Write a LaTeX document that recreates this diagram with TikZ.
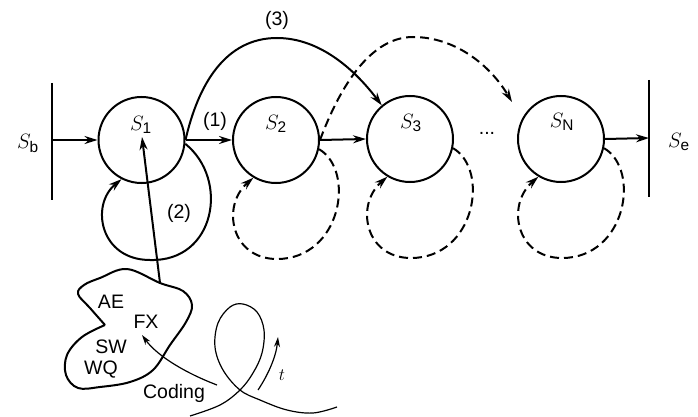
\documentclass[tikz,border=0pt]{standalone}
\usepackage{amsmath}
\usepackage{fontspec}
\setsansfont{Liberation Sans}
\usetikzlibrary{arrows.meta,calc}
\tikzset{
  state/.style={circle,draw,line width=2pt,minimum size=86pt,inner sep=0pt},
  main/.style={line width=2pt},
  arr/.style={-{Stealth[length=13pt,width=8pt]}},
  dsh/.style={dash pattern=on 9pt off 5pt},
  thin arr/.style={-{Stealth[length=10pt,width=6pt]}},
  lbl/.style={font=\fontsize{19.5}{22}\selectfont\sffamily,inner sep=0pt},
  slbl/.style={font=\fontsize{22}{24}\selectfont,inner sep=0pt},
}
\begin{document}
\begin{tikzpicture}[x=1pt,y=-1pt]
\useasboundingbox (0,0) rectangle (698,417);
% states
\node[state] (s1) at (141.5,140) {};
\node[state] (s2) at (276,140) {};
\node[state] (s3) at (410,139) {};
\node[state] (sn) at (561,139) {};
\node[slbl] (l1) at (141,125) {$S_{\textsf{1}}$};
\node[slbl] (l2) at (276,124) {$S_{\textsf{2}}$};
\node[slbl] (l3) at (411,123) {$S_{\textsf{3}}$};
\node[slbl] (ln) at (562,122) {$S_{\textsf{N}}$};
% bars
\coordinate (sbt) at (52,83);
\coordinate (sbb) at (52,200);
\coordinate (sbm) at (52,140);
\coordinate (set) at (649,80);
\coordinate (seb) at (649,197);
\coordinate (sem) at (649,138);
\draw[line width=2.4pt] (sbt) -- (sbb);
\draw[line width=2.4pt] (set) -- (seb);
\node[slbl] (lb) at (28,143) {$S_{\textsf{b}}$};
\node[slbl] (le) at (679,142) {$S_{\textsf{e}}$};
% straight arrows
\draw[main,arr] (sbm) -- (s1.west);
\draw[main,arr] (s1.east) -- (s2.west);
\draw[main,arr] (s2.east) -- (s3.west);
\draw[main,arr] (sn.east) -- (sem);
\node[lbl] (d1) at (215,121) {(1)};
\node[lbl] (dots) at (487,133) {...};
% curve (3)
\draw[main,arr] (s1.east) .. controls (198,85) and (225,38) .. (277,38)
  .. controls (320,38) and (355,70) .. (s3.130);
\node[lbl] (d3) at (277,20) {(3)};
% dashed long arc
\coordinate (dtip) at (512,102);
\draw[main,dsh,arr] (s2.east) .. controls (335,100) and (365,37) .. (413,37)
  .. controls (455,37) and (490,65) .. (dtip);
% S1 self loop (2)
\draw[main,arr] (s1.-5) .. controls (230,180) and (215,262) .. (150,260)
  .. controls (100,260) and (90,205) .. (s1.243);
\node[lbl] (d2) at (179,213) {(2)};
% dashed self loops
\foreach \n in {s2,s3,sn}
  \draw[main,dsh,arr] (\n.-12) .. controls ($(\n)+(80,31)$) and ($(\n)+(65,119)$) .. ($(\n)+(1,119)$)
    .. controls ($(\n)+(-45,119)$) and ($(\n)+(-55,66)$) .. (\n.239);
% blob
\draw[main] plot[smooth, tension=0.6] coordinates {(105,325) (90,308) (78,294) (84,285) (100,278) (127,269) (160,283) (183,291) (192,305) (186,322) (170,345) (153,370) (130,382) (100,387) (78,388) (66,375) (67,355) (82,337) (105,325)};
\coordinate (bt) at (160,283);
\coordinate (s1in) at (142,137);
\draw[main,arr] (bt) -- (s1in);
\node[lbl] (ae) at (111,302) {AE};
\node[lbl] (fx) at (146,322) {FX};
\node[lbl] (sw) at (111,347) {SW};
\node[lbl] (wq) at (101,370) {WQ};
\node[lbl] (cod) at (174,393) {Coding};
% coding arrow
\coordinate (cs) at (217,385);
\coordinate (ct) at (142,335);
\draw[line width=1.2pt,thin arr] (cs) .. controls (188,374) and (158,357) .. (ct);
% trajectory loop
\draw[line width=1.2pt] plot[smooth, tension=0.6] coordinates {(190,416) (220,405) (240,390) (253,373) (262,353) (264,330) (257,312) (243,304) (230,307) (218,323) (215,347) (223,370) (240,390) (260,400) (287,410) (313,413) (337,407)};
% t arrow
\coordinate (ts) at (258,390);
\coordinate (tt) at (278,337);
\draw[line width=1.2pt,thin arr] (ts) .. controls (268,375) and (276,357) .. (tt);
\node[font=\fontsize{19}{21}\selectfont,inner sep=0pt] (tl) at (282,375) {$t$};
\end{tikzpicture}
\end{document}
